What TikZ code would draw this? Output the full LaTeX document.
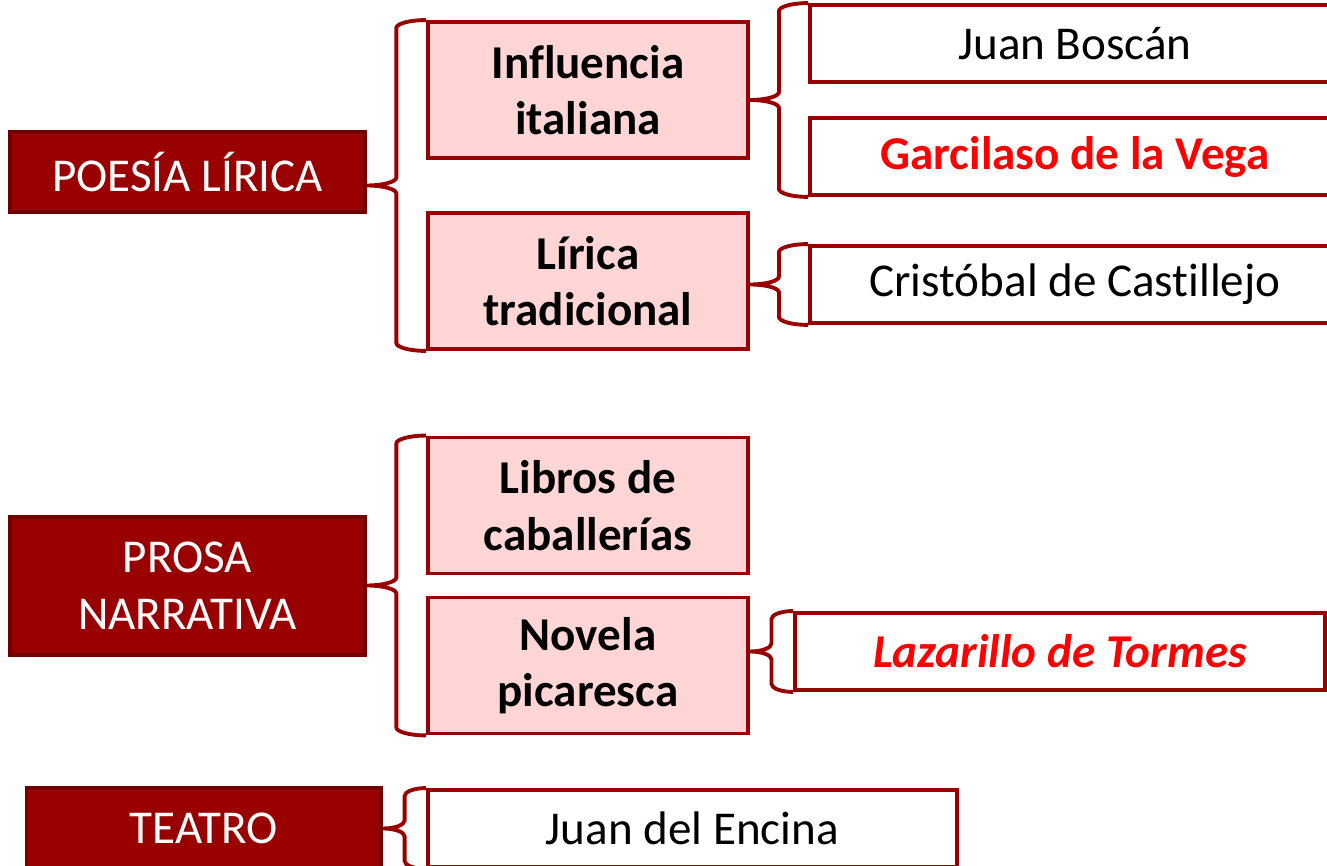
\documentclass[tikz,border=0pt]{standalone}
\usepackage{fontspec}
\setmainfont{Carlito}[Ligatures=NoCommon]
\usepackage{tikz}
\usetikzlibrary{calc}
\definecolor{maroon}{RGB}{153,0,0}
\definecolor{deepmaroon}{RGB}{112,0,0}
\definecolor{blush}{RGB}{255,213,213}
\newcommand{\bracerad}{0.08cm}
% brace from a parent to its first and last child
\newcommand{\bracket}[3]{%
  \draw[Brace] let \p1=(#1.east), \p2=(#2.north west), \p3=(#3.south west),
    \n1={(\x2-\x1)/2}, \n2={(\y2+\y3)/2} in
    (\p2) arc[start angle=90, end angle=180, x radius=\n1, y radius=\bracerad]
    -- ({\x2-\n1},{\n2+\bracerad})
    arc[start angle=0, end angle=-90, x radius=\n1, y radius=\bracerad]
    arc[start angle=90, end angle=0, x radius=\n1, y radius=\bracerad]
    -- ({\x3-\n1},{\y3+\bracerad})
    arc[start angle=180, end angle=270, x radius=\n1, y radius=\bracerad];
}
\begin{document}
\begin{tikzpicture}
  [
    Main/.style={rectangle, draw=deepmaroon, fill=maroon, line width=0.9pt, text=white, minimum width=3.55cm, align=center, font=\fontsize{13.4}{16.1}\selectfont},
    Sub/.style={rectangle, draw=maroon, fill=blush, line width=1.1pt, minimum width=3.2cm, minimum height=1.36cm, align=center, font=\fontsize{13.4}{16.1}\selectfont\bfseries},
    Leaf/.style={rectangle, draw=maroon, fill=white, line width=1.1pt, minimum width=5.3cm, minimum height=0.77cm, align=center, font=\fontsize{13.4}{16.1}\selectfont},
    Brace/.style={draw=maroon, line width=1.1pt}
  ]
  \useasboundingbox (0,0) rectangle (13.27,8.66);
  % Nodes
  \node[Main, minimum height=0.8cm] (poesia) at (1.875, 6.94) {POESÍA LÍRICA};
  \node[Main, minimum height=1.38cm] (prosa) at (1.875, 2.80) {PROSA\\NARRATIVA};
  \node[Main, minimum height=0.8cm] (teatro) at (2.04, 0.38) {TEATRO};
  \node[Sub] (italiana) at (5.88, 7.76) {Influencia\\italiana};
  \node[Sub] (tradicional) at (5.88, 5.85) {Lírica\\tradicional};
  \node[Sub] (caballerias) at (5.88, 3.605) {Libros de\\caballerías};
  \node[Sub] (picaresca) at (5.88, 2.005) {Novela\\picaresca};
  \node[Leaf] (boscan) at (10.75, 8.225) {Juan Boscán};
  \node[Leaf, text=red] (garcilaso) at (10.75, 7.095) {\textbf{Garcilaso de la Vega}};
  \node[Leaf] (castillejo) at (10.75, 5.815) {Cristóbal de Castillejo};
  \node[Leaf, text=red] (lazarillo) at (10.60, 2.145) {\textbf{\textit{Lazarillo de Tormes}}};
  \node[Leaf, minimum width=5.29cm] (encina) at (6.925, 0.375) {Juan del Encina};
  % Lines
  \bracket{poesia}{italiana}{tradicional}
  \bracket{italiana}{boscan}{garcilaso}
  \bracket{tradicional}{castillejo}{castillejo}
  \bracket{prosa}{caballerias}{picaresca}
  \bracket{picaresca}{lazarillo}{lazarillo}
  \bracket{teatro}{encina}{encina}
\end{tikzpicture}
\end{document}
